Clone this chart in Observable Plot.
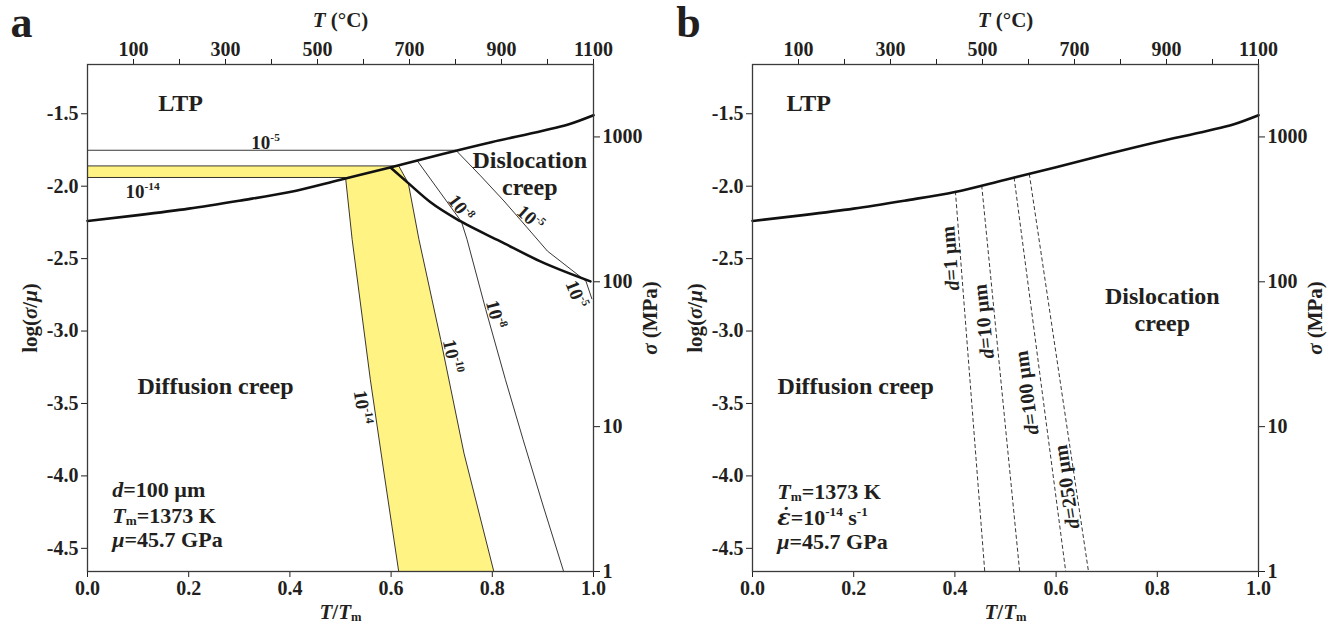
<!DOCTYPE html>
<html>
<head>
<meta charset="utf-8">
<script src="https://cdn.jsdelivr.net/npm/d3@7"></script>
<script src="https://cdn.jsdelivr.net/npm/@observablehq/plot@0.6"></script>
<style>
  html, body { margin: 0; padding: 0; background: #fff; }
  #chart { width: 1332px; height: 623px; display: flex; }
  #chart svg { display: block; max-width: none; }
</style>
</head>
<body>
<div id="chart"></div>
<script>
// Deformation-mechanism maps: log(σ/μ) against homologous temperature T/Tm.
const MU_MPA = 45700;             // shear modulus μ = 45.7 GPa
const sigmaRangeMPa = [1, 3162];  // stress range covered by the right axis

// Axis ticks
const xTicks = [0, 0.2, 0.4, 0.6, 0.8, 1.0];
const yTicks = [-4.5, -4.0, -3.5, -3.0, -2.5, -2.0, -1.5];
const sigmaTicks = [1, 10, 100, 1000];
const topMaxC = 1100;
const topTicksC = [100, 200, 300, 400, 500, 600, 700, 800, 900, 1000, 1100];
const topLabelsC = [100, 300, 500, 700, 900, 1100];

// Boundary between low-temperature plasticity (LTP) and power-law creep
const ltpT = [0, 0.1, 0.2, 0.3, 0.4, 0.5, 0.6, 0.7, 0.8, 0.9, 0.95, 1.0];
const ltpS = [-2.24, -2.2, -2.155, -2.1, -2.04, -1.955, -1.87, -1.78, -1.695, -1.617, -1.574, -1.51];

// Boundary between diffusion creep and dislocation creep (d = 100 µm)
const gbT = [0.599, 0.634, 0.678, 0.737, 0.816, 0.895, 0.994];
const gbS = [-1.871, -1.979, -2.111, -2.242, -2.381, -2.519, -2.657];

// Strain-rate contours (s⁻¹)
const r5T = [0, 0.728, 0.777, 0.823, 0.849, 0.909, 0.985, 0.997];
const r5S = [-1.752, -1.752, -1.929, -2.102, -2.206, -2.448, -2.655, -2.78];
const r8T = [0.652, 0.739, 0.75, 0.787, 0.826, 0.861, 0.9, 0.941];
const r8S = [-1.826, -2.245, -2.367, -2.851, -3.336, -3.751, -4.201, -4.66];
const r10T = [0, 0.615, 0.634, 0.655, 0.698, 0.744, 0.803];
const r10S = [-1.86, -1.86, -1.979, -2.367, -3.059, -3.843, -4.66];
const r14T = [0, 0.51, 0.523, 0.559, 0.586, 0.615];
const r14S = [-1.94, -1.94, -2.367, -3.336, -3.98, -4.66];

// Diffusion / dislocation creep boundaries for several grain sizes (ε̇ = 10⁻¹⁴ s⁻¹)
const grainSizes = ["1", "10", "100", "250"];
const grainTopT = [0.401, 0.453, 0.517, 0.547];
const grainTopS = [-2.035, -1.995, -1.94, -1.915];
const grainBotT = [0.459, 0.528, 0.619, 0.664];
const grainBotS = [-4.66, -4.66, -4.66, -4.66];

// Annotations
const contourLabelsA = [
  {text: "10^{-5}",  t: 0.352, s: -1.699, angle: 0},
  {text: "10^{-14}", t: 0.109, s: -2.042, angle: 0},
  {text: "10^{-8}",  t: 0.737, s: -2.152, angle: 53},
  {text: "10^{-5}",  t: 0.875, s: -2.221, angle: 42},
  {text: "10^{-5}",  t: 0.966, s: -2.747, angle: 68},
  {text: "10^{-8}",  t: 0.806, s: -2.886, angle: 75},
  {text: "10^{-10}", t: 0.721, s: -3.176, angle: 78},
  {text: "10^{-14}", t: 0.543, s: -3.526, angle: 82}
];
const regionLabelsA = [
  {text: "LTP", t: 0.184, s: -1.426},
  {text: "Dislocation", t: 0.874, s: -1.82},
  {text: "creep", t: 0.874, s: -2.007},
  {text: "Diffusion creep", t: 0.253, s: -3.384}
];
const paramLabelsA = [
  {text: "*d*=100 µm", t: 0.049, s: -4.097},
  {text: "*T*_{m}=1373 K", t: 0.049, s: -4.277},
  {text: "*μ*=45.7 GPa", t: 0.049, s: -4.443}
];
const grainLabelPos = [
  {t: 0.391, s: -2.498, angle: -94.6},
  {t: 0.457, s: -2.934, angle: -95.8},
  {t: 0.542, s: -3.426, angle: -97.7},
  {t: 0.621, s: -4.076, angle: -98.7}
];
const regionLabelsB = [
  {text: "LTP", t: 0.111, s: -1.426},
  {text: "Dislocation", t: 0.81, s: -2.761},
  {text: "creep", t: 0.81, s: -2.948},
  {text: "Diffusion creep", t: 0.204, s: -3.384}
];
const paramLabelsB = [
  {text: "*T*_{m}=1373 K", t: 0.049, s: -4.111},
  {text: "*ε̇*=10^{-14} s^{-1}", t: 0.049, s: -4.291},
  {text: "*μ*=45.7 GPa", t: 0.049, s: -4.457}
];

const INK = "#231f20";
const YELLOW = "#fff383";
const FONT = "'Liberation Serif', 'Times New Roman', serif";
const yDomain = sigmaRangeMPa.map(v => Math.log10(v / MU_MPA));

const pts = (T, S) => T.map((t, i) => ({t, s: S[i]}));

function axisMarks() {
  return [
    Plot.axisX({anchor: "bottom", ticks: xTicks, tickFormat: d => d.toFixed(1), tickSize: 6, tickPadding: 3, label: null}),
    Plot.axisX({anchor: "top", ticks: topTicksC.map(c => c / topMaxC), tickSize: 6, tickPadding: 3, label: null,
      tickFormat: d => { const c = Math.round(d * topMaxC); return topLabelsC.includes(c) ? String(c) : ""; }}),
    Plot.axisY({anchor: "left", ticks: yTicks, tickFormat: d => d.toFixed(1), tickSize: 6, tickPadding: 3, label: null}),
    Plot.axisY({anchor: "right", ticks: sigmaTicks.map(v => Math.log10(v / MU_MPA)), tickSize: 6, tickPadding: 3, label: null,
      tickFormat: d => String(Math.round(MU_MPA * 10 ** d))}),
    Plot.frame({stroke: "#3a3a3a", strokeWidth: 1.3})
  ];
}

function titleMarks(letter, letterDx) {
  const c = {textAnchor: "middle", lineAnchor: "middle", fill: INK};
  return [
    Plot.text(["*T* (°C)"], {...c, frameAnchor: "top", dy: -44, fontSize: 21}),
    Plot.text(["*T*/*T*_{m}"], {...c, frameAnchor: "bottom", dy: 41, fontSize: 21}),
    Plot.text(["log(*σ*/*μ*)"], {...c, frameAnchor: "left", dx: -57, rotate: -90, fontSize: 21}),
    Plot.text(["*σ* (MPa)"], {...c, frameAnchor: "right", dx: 57, rotate: -90, fontSize: 21}),
    Plot.text([letter], {...c, frameAnchor: "top-left", dx: letterDx, dy: -42, fontSize: 44})
  ];
}

function labelMarks(rows, size, anchor = "middle") {
  return Plot.text(rows, {x: "t", y: "s", text: "text", fontSize: size, fill: INK, textAnchor: anchor,
    lineAnchor: "middle", rotate: rows[0].angle === undefined ? 0 : "angle"});
}

function panel({marginLeft, marginRight, letter, letterDx, marks}) {
  return Plot.plot({
    width: 666, height: 623,
    marginLeft, marginRight, marginTop: 64, marginBottom: 52,
    x: {domain: [0, 1]},
    y: {domain: yDomain},
    style: {fontFamily: FONT, fontSize: "20px", fontWeight: "bold", color: INK, background: "white"},
    marks: [...marks, ...axisMarks(), ...titleMarks(letter, letterDx)]
  });
}

// Panel a: strain-rate contours for d = 100 µm
const band = [...pts(r10T, r10S), ...pts(r14T, r14S).reverse()];
const thin = {x: "t", y: "s", stroke: INK, strokeWidth: 0.9, strokeLinecap: "butt", strokeLinejoin: "miter"};
const thick = {x: "t", y: "s", stroke: "#111", strokeWidth: 2.6, curve: "monotone-x"};

const panelA = panel({
  marginLeft: 87, marginRight: 73, letter: "a", letterDx: -66,
  marks: [
    Plot.line(band, {x: "t", y: "s", fill: YELLOW, stroke: "none"}),
    Plot.line(pts(r5T, r5S), thin),
    Plot.line(pts(r8T, r8S), thin),
    Plot.line(pts(r10T, r10S), thin),
    Plot.line(pts(r14T, r14S), thin),
    Plot.line(pts(ltpT, ltpS), thick),
    Plot.line(pts(gbT, gbS), thick),
    labelMarks(contourLabelsA, 19),
    labelMarks(regionLabelsA, 24),
    labelMarks(paramLabelsA, 22, "start")
  ]
});

// Panel b: boundaries for different grain sizes at ε̇ = 10⁻¹⁴ s⁻¹
const grainLines = grainSizes.flatMap((d, i) => [
  {d, t: grainTopT[i], s: grainTopS[i]},
  {d, t: grainBotT[i], s: grainBotS[i]}
]);
const grainLabels = grainSizes.map((d, i) => ({text: `*d*=${d} µm`, ...grainLabelPos[i]}));

const panelB = panel({
  marginLeft: 86, marginRight: 74, letter: "b", letterDx: -64,
  marks: [
    Plot.line(grainLines, {x: "t", y: "s", z: "d", stroke: INK, strokeWidth: 0.9, strokeDasharray: "4,2.5", strokeLinecap: "butt"}),
    Plot.line(pts(ltpT, ltpS), thick),
    labelMarks(grainLabels, 20),
    labelMarks(regionLabelsB, 24),
    labelMarks(paramLabelsB, 22, "start")
  ]
});

const chart = document.getElementById("chart");
chart.append(panelA, panelB);

// Light markup in labels: *italic*, ^{superscript}, _{subscript}
function richText(svg) {
  const NS = "http://www.w3.org/2000/svg";
  svg.querySelectorAll("text").forEach(node => {
    const src = node.textContent;
    if (!/[*^_]/.test(src)) return;
    const base = parseFloat(getComputedStyle(node).fontSize) || 20;
    node.textContent = "";
    const re = /\*([^*]+)\*|\^\{([^}]*)\}|_\{([^}]*)\}|([^*^_]+)/g;
    let m;
    while ((m = re.exec(src))) {
      const span = document.createElementNS(NS, "tspan");
      if (m[1] !== undefined) {
        span.textContent = m[1];
        span.setAttribute("font-style", "italic");
        // combining dot above renders best with DejaVu's mark positioning
        if (m[1].includes("\u0307")) span.setAttribute("font-family", "'DejaVu Serif', serif");
      } else if (m[2] !== undefined) {
        span.textContent = m[2];
        span.setAttribute("font-size", `${(base * 0.6).toFixed(1)}px`);
        span.setAttribute("baseline-shift", `${(base * 0.42).toFixed(1)}px`);
      } else if (m[3] !== undefined) {
        span.textContent = m[3];
        span.setAttribute("font-size", `${(base * 0.6).toFixed(1)}px`);
        span.setAttribute("baseline-shift", `${(-base * 0.08).toFixed(1)}px`);
      } else {
        span.textContent = m[4];
      }
      node.appendChild(span);
    }
  });
}
richText(panelA);
richText(panelB);
</script>
</body>
</html>
